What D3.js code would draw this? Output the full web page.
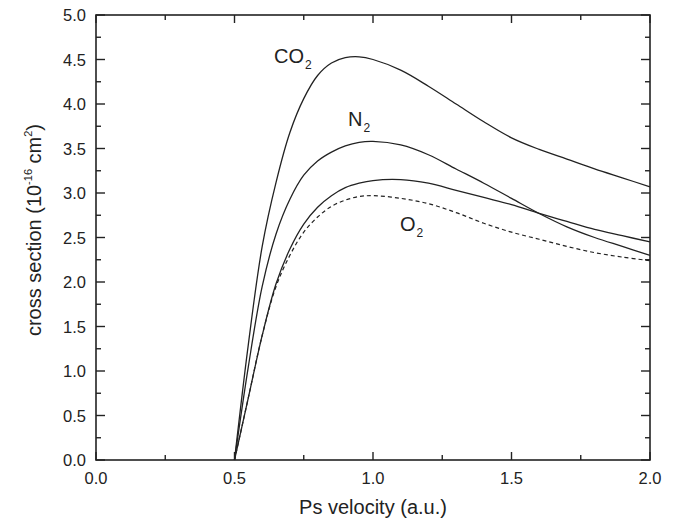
<!DOCTYPE html>
<html>
<head>
<meta charset="utf-8">
<script src="https://cdn.jsdelivr.net/npm/d3@7"></script>
<style>
  body { margin: 0; background: #fff; }
  svg { font-family: "Liberation Sans", Arial, sans-serif; }
</style>
</head>
<body>
<div id="chart"></div>
<script>
// velocity samples (a.u.)
const velocity = [0.5, 0.55, 0.6, 0.65, 0.7, 0.75, 0.8, 0.85, 0.9, 0.95, 1.0, 1.1, 1.2, 1.3, 1.4, 1.5, 1.6, 1.7, 1.8, 1.9, 2.0];
// cross sections (10^-16 cm^2)
const co2 = [0, 1.30, 2.40, 3.12, 3.68, 4.06, 4.32, 4.46, 4.52, 4.53, 4.50, 4.38, 4.20, 4.00, 3.80, 3.62, 3.49, 3.38, 3.27, 3.17, 3.07];
const n2 = [0, 1.05, 1.95, 2.54, 2.93, 3.20, 3.36, 3.46, 3.53, 3.57, 3.58, 3.54, 3.43, 3.27, 3.11, 2.94, 2.77, 2.62, 2.50, 2.40, 2.30];
const o2 = [0, 0.70, 1.40, 1.98, 2.37, 2.65, 2.84, 2.97, 3.06, 3.11, 3.14, 3.15, 3.11, 3.03, 2.95, 2.87, 2.77, 2.68, 2.59, 2.52, 2.45];
const o2dashed = [0, 0.70, 1.40, 1.95, 2.30, 2.56, 2.73, 2.85, 2.92, 2.96, 2.97, 2.94, 2.88, 2.78, 2.66, 2.56, 2.48, 2.40, 2.33, 2.28, 2.24];

const xTicks = [0, 0.5, 1.0, 1.5, 2.0];
const yTicks = [0, 0.5, 1.0, 1.5, 2.0, 2.5, 3.0, 3.5, 4.0, 4.5, 5.0];

const width = 678, height = 524;
const margin = { top: 15, right: 28, bottom: 64, left: 96 };
const w = width - margin.left - margin.right;
const h = height - margin.top - margin.bottom;

const svg = d3.select("#chart").append("svg")
  .attr("width", width)
  .attr("height", height);

const g = svg.append("g")
  .attr("transform", `translate(${margin.left},${margin.top})`);

const x = d3.scaleLinear().domain([0, 2]).range([0, w]);
const y = d3.scaleLinear().domain([0, 5]).range([h, 0]);

const ink = "#222";

// curves
const line = d3.line()
  .x((d, i) => x(velocity[i]))
  .y(d => y(d))
  .curve(d3.curveCatmullRom.alpha(0.5));

[co2, n2, o2].forEach(s => {
  g.append("path")
    .attr("d", line(s))
    .attr("fill", "none")
    .attr("stroke", ink)
    .attr("stroke-width", 1.3);
});
g.append("path")
  .attr("d", line(o2dashed))
  .attr("fill", "none")
  .attr("stroke", ink)
  .attr("stroke-width", 1.2)
  .attr("stroke-dasharray", "4,3");

// frame
g.append("rect")
  .attr("width", w).attr("height", h)
  .attr("fill", "none")
  .attr("stroke", ink)
  .attr("stroke-width", 1.6);

// ticks, inward on all sides
const xMinor = d3.range(0.25, 2, 0.5);
const yMinor = d3.range(0.25, 5, 0.5);
function tickLines(vals, len, horizontal) {
  vals.forEach(v => {
    if (horizontal) {
      g.append("line").attr("x1", x(v)).attr("x2", x(v)).attr("y1", h).attr("y2", h - len)
        .attr("stroke", ink).attr("stroke-width", 1.4);
      g.append("line").attr("x1", x(v)).attr("x2", x(v)).attr("y1", 0).attr("y2", len)
        .attr("stroke", ink).attr("stroke-width", 1.4);
    } else {
      g.append("line").attr("y1", y(v)).attr("y2", y(v)).attr("x1", 0).attr("x2", len)
        .attr("stroke", ink).attr("stroke-width", 1.4);
      g.append("line").attr("y1", y(v)).attr("y2", y(v)).attr("x1", w).attr("x2", w - len)
        .attr("stroke", ink).attr("stroke-width", 1.4);
    }
  });
}
tickLines(xTicks, 8, true);
tickLines(xMinor, 5, true);
tickLines(yTicks, 9, false);
tickLines(yMinor, 5, false);

// tick labels
g.selectAll(".xl").data(xTicks).join("text")
  .attr("x", d => x(d))
  .attr("y", h + 24)
  .attr("text-anchor", "middle")
  .attr("font-size", 16.5)
  .attr("fill", ink)
  .text(d => d.toFixed(1));

g.selectAll(".yl").data(yTicks).join("text")
  .attr("x", -10)
  .attr("y", d => y(d) + 6)
  .attr("text-anchor", "end")
  .attr("font-size", 16.5)
  .attr("fill", ink)
  .text(d => d.toFixed(1));

// axis titles
svg.append("text")
  .attr("x", margin.left + w / 2)
  .attr("y", 514)
  .attr("text-anchor", "middle")
  .attr("font-size", 20)
  .attr("fill", ink)
  .text("Ps velocity (a.u.)");

const yt = svg.append("text")
  .attr("transform", "translate(41,230) rotate(-90)")
  .attr("text-anchor", "middle")
  .attr("font-size", 20)
  .attr("fill", ink);
yt.append("tspan").text("cross section (10");
yt.append("tspan").attr("font-size", 11).attr("dy", -9).text("-16");
yt.append("tspan").attr("dy", 9).text(" cm");
yt.append("tspan").attr("font-size", 11).attr("dy", -9).text("2");
yt.append("tspan").attr("dy", 9).text(")");

// curve labels
function label(px, py, main) {
  const t = svg.append("text")
    .attr("x", px).attr("y", py)
    .attr("font-size", 20)
    .attr("fill", ink);
  t.append("tspan").text(main);
  t.append("tspan").attr("font-size", 12).attr("dy", 6).attr("dx", 1).text("2");
}
label(274, 63, "CO");
label(348, 126, "N");
label(400, 231, "O");
</script>
</body>
</html>
